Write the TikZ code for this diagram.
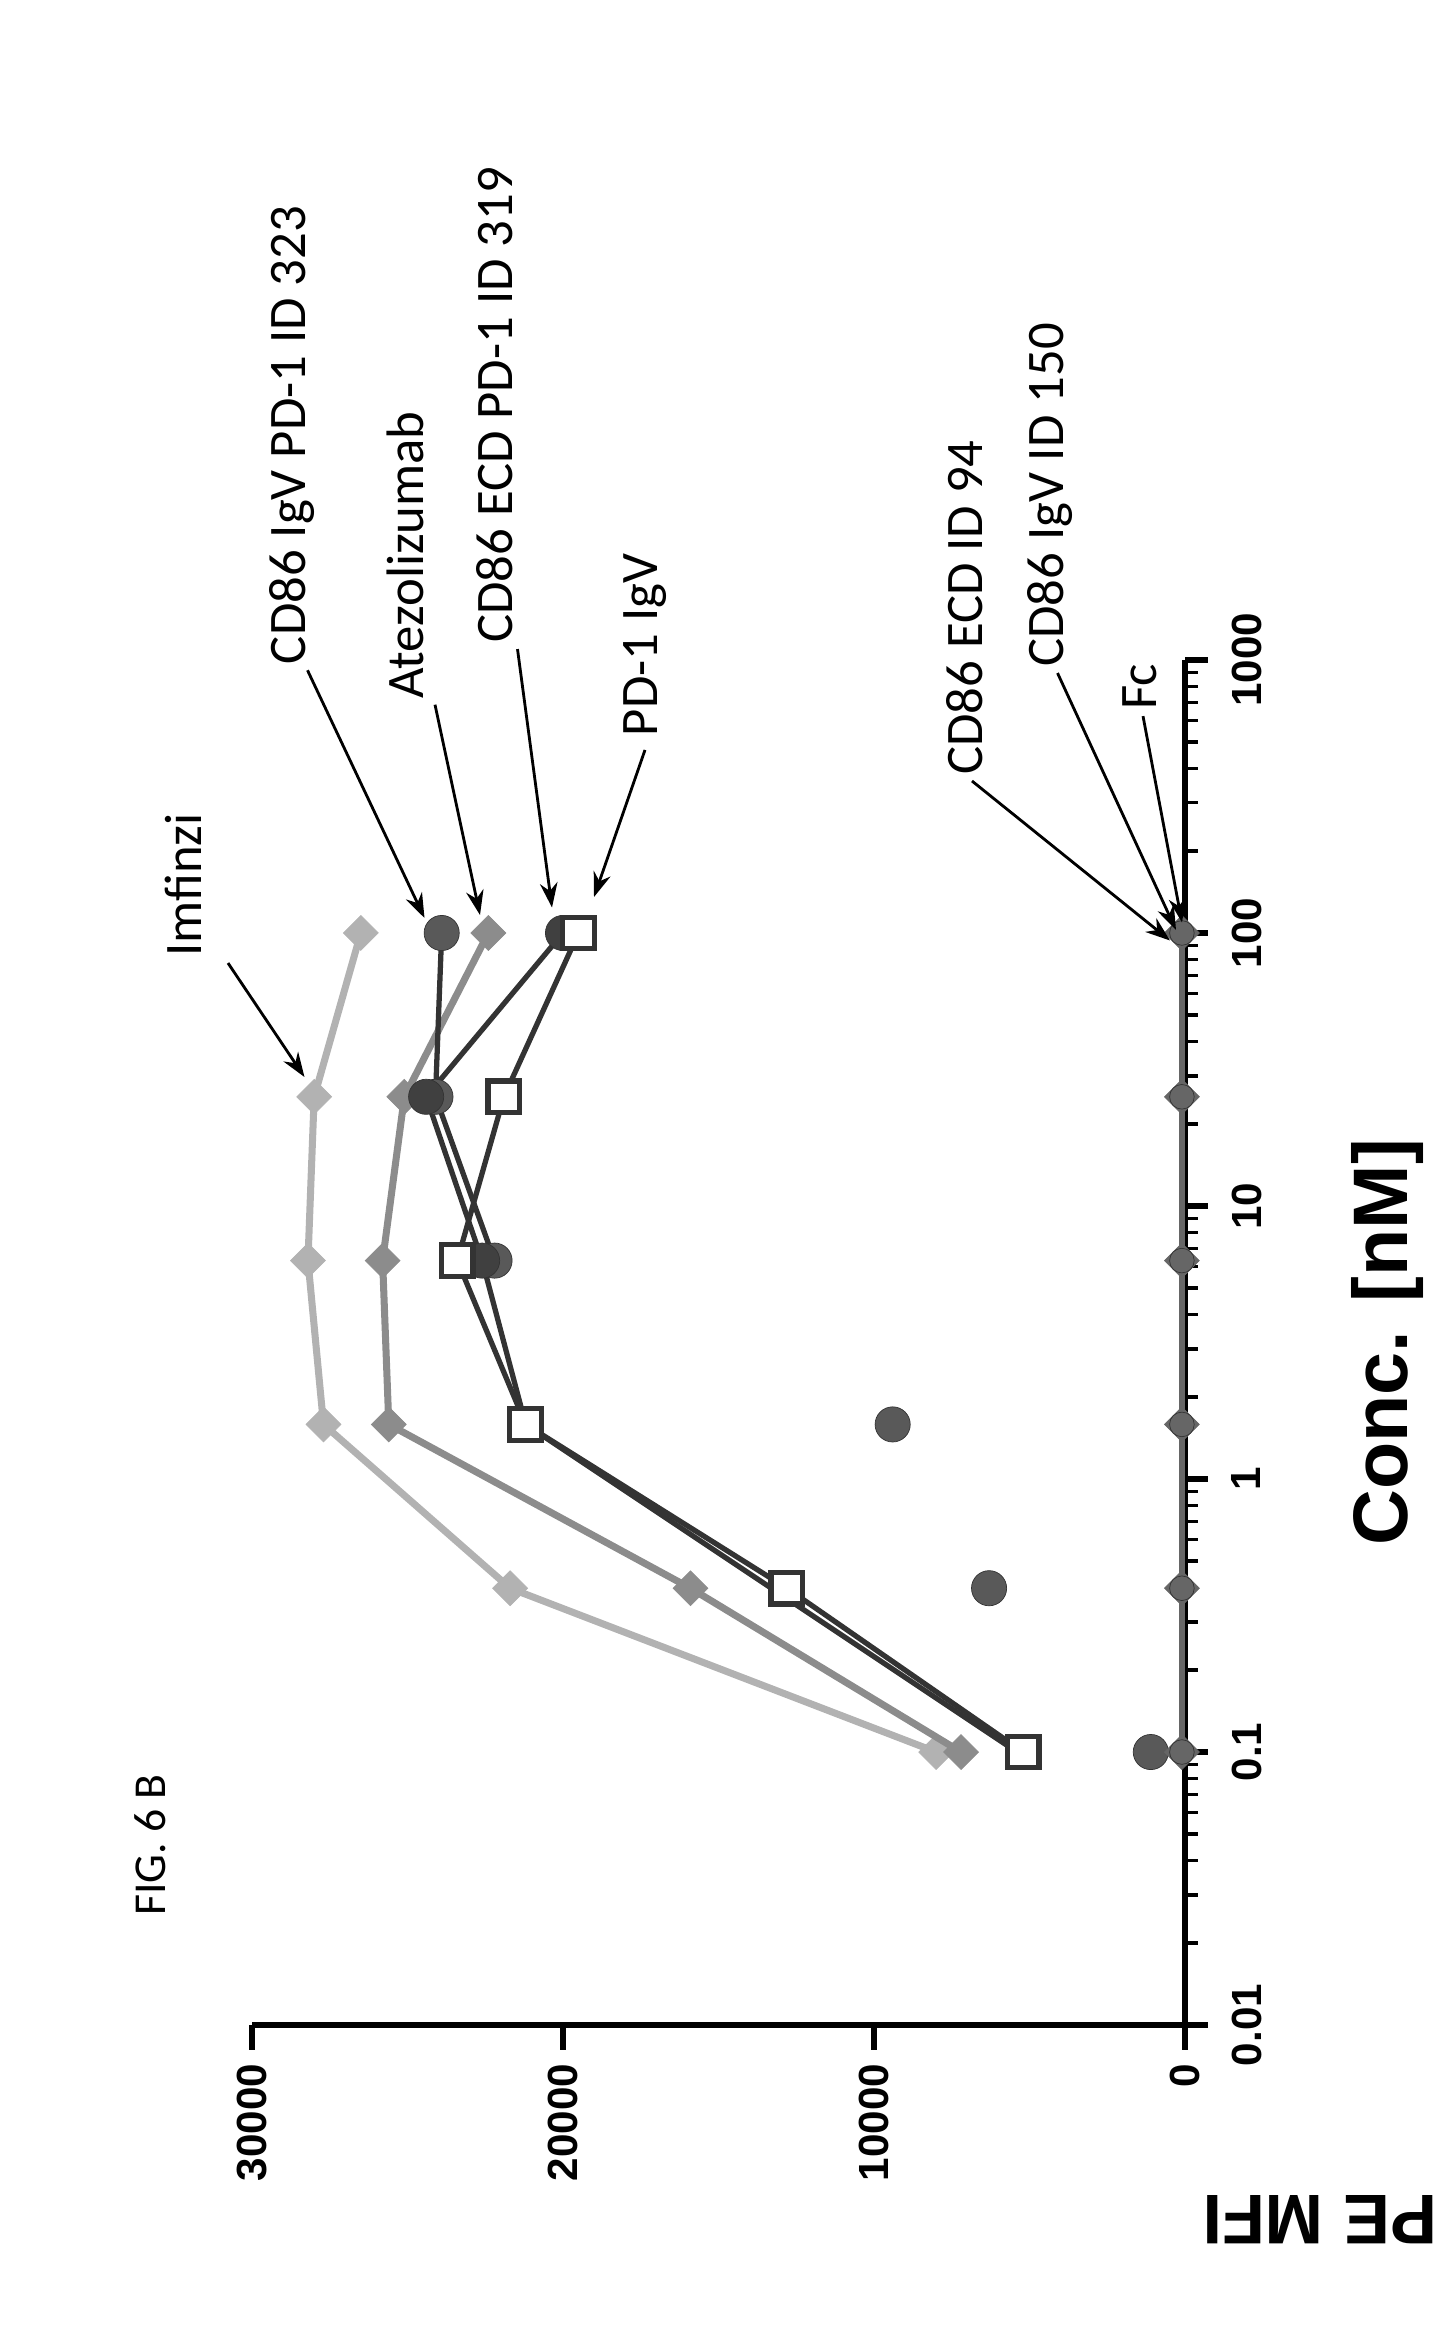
\documentclass[tikz,border=0pt]{standalone}
\usepackage{fontspec}
\setmainfont{Carlito}
\newfontfamily\arl{Liberation Sans}
\usetikzlibrary{shapes.geometric,arrows.meta}
\begin{document}
\begin{tikzpicture}[x=0.03cm,y=-0.03cm,
 lbl/.style={rotate=90,font=\fontsize{30}{32}\selectfont},
 ann/.style={-{Stealth[length=14pt,width=10pt]},line width=1.6pt},
 dia/.style={diamond,fill=#1,draw=#1,minimum size=20pt,inner sep=0pt},
 sq/.style={rectangle,draw=black!80,line width=3pt,fill=white,minimum size=18pt,inner sep=0pt},
 cir/.style={circle,fill=black!65,draw=black!80,minimum size=20pt,inner sep=0pt}]
\useasboundingbox (0,0) rectangle (967,1566);
\node[lbl,font=\fontsize{26}{28}\selectfont] (fig) at (100,1230) {FIG. 6 B};
\begin{scope}[shift={(790,986)},x={(0cm,5.46cm)},y={(-0.622cm,0cm)}]
 \draw[line width=3pt] (-2,0) -- (3,0);
 \draw[line width=3pt] (-2,0) -- (-2,30);
 \foreach \v/\t in {0/0,10/10000,20/20000,30/30000}{
   \draw[line width=3pt] (-2,\v) -- (-2.09,\v);
   \node[rotate=90,anchor=east,font=\arl\bfseries\fontsize{24}{26}\selectfont] at (-2.12,\v) {\t};
 }
 \foreach \d/\t in {-2/0.01,-1/0.1,0/1,1/10,2/100,3/1000}{
   \draw[line width=3pt] (\d,0) -- (\d,-0.75);
   \node[rotate=90,anchor=north,font=\arl\bfseries\fontsize{24}{26}\selectfont] at (\d,-1.3) {\t};
 }
 \foreach \d in {-2,-1,0,1,2}{\foreach \m in {2,...,9}{
   \draw[line width=2pt] ({\d+log10(\m)},0) -- ({\d+log10(\m)},-0.42);}}
 \draw[black!30,line width=4pt] (-1,8) -- (-0.4,21.7) -- (0.2,27.7) -- (0.8,28.2) -- (1.4,28) -- (2,26.5);
 \foreach \u/\v in {-1/8,-0.4/21.7,0.2/27.7,0.8/28.2,1.4/28,2/26.5}\node[dia=black!30] at (\u,\v) {};
 \draw[black!45,line width=4pt] (-1,7.2) -- (-0.4,15.9) -- (0.2,25.6) -- (0.8,25.8) -- (1.4,25.1) -- (2,22.4);
 \foreach \u/\v in {-1/7.2,-0.4/15.9,0.2/25.6,0.8/25.8,1.4/25.1,2/22.4}\node[dia=black!45] at (\u,\v) {};
 \draw[black!80,line width=3pt] (-1,5.4) -- (-0.4,13.3) -- (0.2,21.2) -- (0.8,22.6) -- (1.4,24.4) -- (2,20);
 \draw[black!80,line width=3pt] (0.8,22.2) -- (1.4,24.1) -- (2,23.9);
 \foreach \u/\v in {-1/1.1,-0.4/6.3,0.2/9.4,0.8/22.2,1.4/24.1,2/23.9}\node[cir] at (\u,\v) {};
 \foreach \u/\v in {0.8/22.6,1.4/24.4,2/20}\node[cir,fill=black!75] at (\u,\v) {};
 \draw[black!80,line width=3pt] (-1,5.2) -- (-0.4,12.8) -- (0.2,21.2) -- (0.8,23.4) -- (1.4,21.9) -- (2,19.5);
 \foreach \u/\v in {-1/5.2,-0.4/12.8,0.2/21.2,0.8/23.4,1.4/21.9,2/19.5}\node[sq] at (\u,\v) {};
 \draw[black!60,line width=3pt] (-1,0.1) -- (2,0.1);
 \foreach \u in {-1,-0.4,0.2,0.8,1.4,2}{\node[dia=black!60] at (\u,0.1) {};\node[cir,minimum size=14pt,fill=black!60] at (\u,0.1) {};}
\end{scope}
\node[rotate=180,font=\arl\bfseries\fontsize{40}{42}\selectfont] (pe) at (880,1480) {PE MFI};
\node[rotate=90,font=\arl\bfseries\fontsize{44}{46}\selectfont] (conc) at (925,895) {Conc. [nM]};
\node[lbl] (imf) at (122,590) {Imfinzi};
\node[lbl] (t323) at (195,290) {CD86 IgV PD-1 ID 323};
\node[lbl] (atz) at (270,370) {Atezolizumab};
\node[lbl] (t319) at (330,270) {CD86 ECD PD-1 ID 319};
\node[lbl] (pd1) at (430,430) {PD-1 IgV};
\node[lbl] (e94) at (643,405) {CD86 ECD ID 94};
\node[lbl] (i150) at (700,330) {CD86 IgV ID 150};
\node[lbl] (fc) at (760,458) {Fc};
\coordinate (a1) at (203,718); \coordinate (a2) at (283,612);
\coordinate (a3) at (320,610); \coordinate (a4) at (368,605);
\coordinate (a5) at (396,598); \coordinate (a6) at (780,627);
\coordinate (a7) at (784,620); \coordinate (a8) at (788,615);
\draw[ann] (imf.west) ++(30,0) -- (a1);
\draw[ann] (t323.west) ++(10,0) -- (a2);
\draw[ann] (atz.west) ++(20,0) -- (a3);
\draw[ann] (t319.west) ++(15,0) -- (a4);
\draw[ann] (pd1.west) ++(0,5) -- (a5);
\draw[ann] (e94.west) ++(5,0) -- (a6);
\draw[ann] (i150.west) ++(5,0) -- (a7);
\draw[ann] (fc.west) ++(2,0) -- (a8);
\end{tikzpicture}
\end{document}
